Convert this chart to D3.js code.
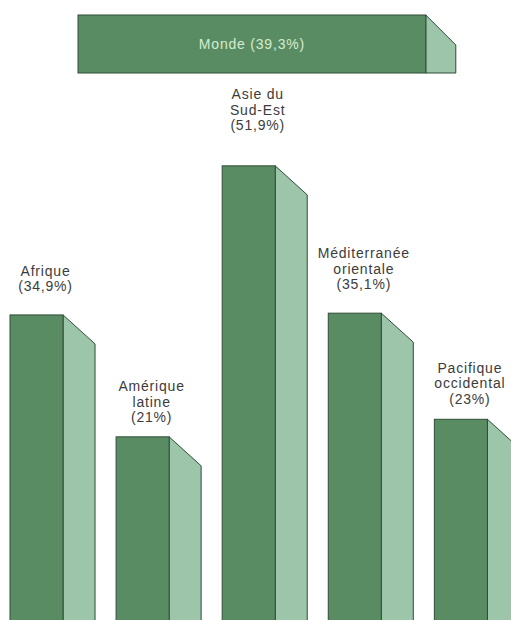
<!DOCTYPE html>
<head>
<meta charset="utf-8">
<style>
body { margin: 0; background: #fff; }
.front { fill: #5a8c63; stroke: #2f4d38; stroke-width: 1px; }
.side { fill: #9cc5a9; stroke: #2f4d38; stroke-width: 1px; }
.label { font-family: "Liberation Sans", Arial, sans-serif; font-size: 14px; letter-spacing: 0.8px; fill: #3c3c3c; }
.monde { font-family: "Liberation Sans", Arial, sans-serif; font-size: 14px; letter-spacing: 0.8px; fill: #d3ecd0; }
</style>
</head>
<body>
<script src="https://cdn.jsdelivr.net/npm/d3@7"></script>
<script>
var regions = ["Afrique", "Amérique latine", "Asie du Sud-Est", "Méditerranée orientale", "Pacifique occidental"];
var labelLines = [["Afrique"], ["Amérique", "latine"], ["Asie du", "Sud-Est"], ["Méditerranée", "orientale"], ["Pacifique", "occidental"]];
var values = [34.9, 21, 51.9, 35.1, 23];
var valueText = ["34,9%", "21%", "51,9%", "35,1%", "23%"];
var worldName = "Monde";
var worldValue = 39.3;
var worldText = "39,3%";

var width = 511, height = 620;
var depthX = 32, depthY = 29;

var svg = d3.select("body").append("svg")
  .attr("width", width)
  .attr("height", height);

var x = d3.scaleBand()
  .domain(regions)
  .range([10, 487.4])
  .paddingInner(0.5)
  .paddingOuter(0);

var y = d3.scaleLinear()
  .domain([0, 60])
  .range([621, 621 - 60 * 8.77]);

// horizontal world bar, about the same px per percent
var xw = d3.scaleLinear()
  .domain([0, 60])
  .range([78, 78 + 60 * 8.85]);

var bars = svg.selectAll("g.bar")
  .data(regions)
  .enter().append("g")
  .attr("class", "bar");

bars.append("path")
  .attr("class", "side")
  .attr("d", function(d, i) {
    var x1 = x(d) + x.bandwidth(), t = y(values[i]);
    return "M" + x1 + "," + t + "L" + (x1 + depthX) + "," + (t + depthY) +
      "L" + (x1 + depthX) + "," + (height + 5) + "L" + x1 + "," + (height + 5) + "Z";
  });

bars.append("rect")
  .attr("class", "front")
  .attr("x", function(d) { return x(d); })
  .attr("y", function(d, i) { return y(values[i]); })
  .attr("width", x.bandwidth())
  .attr("height", function(d, i) { return height + 5 - y(values[i]); });

// labels sit a bit higher the taller the bar is
var lineH = 15.5;
bars.append("text")
  .attr("class", "label")
  .attr("text-anchor", "middle")
  .each(function(d, i) {
    var lines = labelLines[i].concat(["(" + valueText[i] + ")"]);
    var cx = x(d) + x.bandwidth() / 2 + 9;
    var last = y(values[i] * 1.078);
    var t = d3.select(this);
    lines.forEach(function(l, j) {
      t.append("tspan")
        .attr("x", cx)
        .attr("y", last - (lines.length - 1 - j) * lineH)
        .text(l);
    });
  });

// world bar
var wTop = 15, wBot = 73;
var wEnd = xw(worldValue);
svg.append("path")
  .attr("class", "side")
  .attr("d", "M" + wEnd + "," + wTop + "L" + (wEnd + depthX - 2) + "," + (wTop + depthY + 1) +
    "L" + (wEnd + depthX - 2) + "," + wBot + "L" + wEnd + "," + wBot + "Z");

svg.append("rect")
  .attr("class", "front")
  .attr("x", xw(0))
  .attr("y", wTop)
  .attr("width", wEnd - xw(0))
  .attr("height", wBot - wTop);

svg.append("text")
  .attr("class", "monde")
  .attr("text-anchor", "middle")
  .attr("x", (xw(0) + wEnd) / 2)
  .attr("y", (wTop + wBot) / 2 + 5)
  .text(worldName + " (" + worldText + ")");
</script>
</body>
